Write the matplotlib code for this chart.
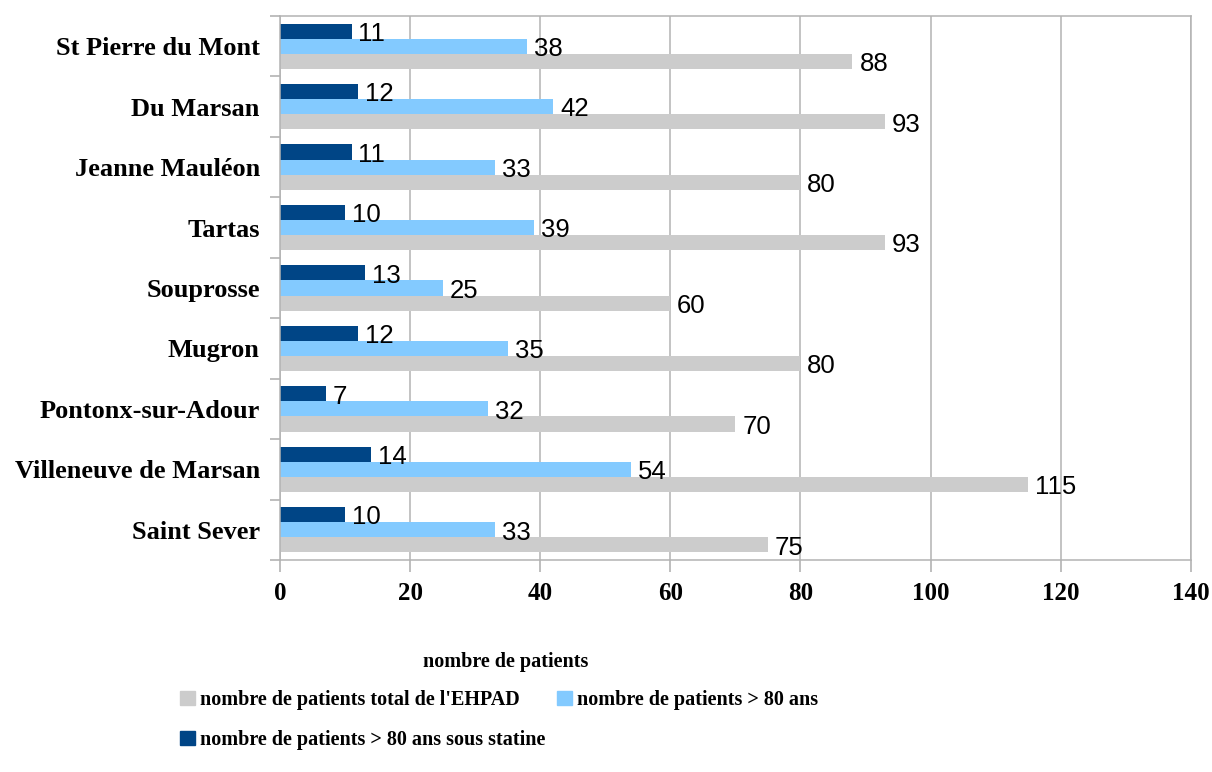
import matplotlib
matplotlib.use("Agg")
import matplotlib.pyplot as plt
import numpy as np
from matplotlib.patches import Patch

categories = ["St Pierre du Mont", "Du Marsan", "Jeanne Mauléon", "Tartas", "Souprosse",
              "Mugron", "Pontonx-sur-Adour", "Villeneuve de Marsan", "Saint Sever"]
statine = [11, 12, 11, 10, 13, 12, 7, 14, 10]
over80 = [38, 42, 33, 39, 25, 35, 32, 54, 33]
total = [88, 93, 80, 93, 60, 80, 70, 115, 75]
xticks = [0, 20, 40, 60, 80, 100, 120, 140]

lab_total = "nombre de patients total de l'EHPAD"
lab_over80 = "nombre de patients > 80 ans"
lab_stat = "nombre de patients > 80 ans sous statine"
axis_title = "nombre de patients"

c_dark = "#004586"
c_light = "#83caff"
c_gray = "#cccccc"
c_grid = "#b3b3b3"

serif = "Liberation Serif"
sans = "Liberation Sans"

fig = plt.figure(figsize=(12.12, 7.72), dpi=100)
W, H = 1212, 772
ax = fig.add_axes([280 / W, 1 - 560 / H, (1190.7 - 280) / W, (560 - 16) / H])

y = np.arange(len(categories))
h = 0.25
series = [(statine, c_dark, -h), (over80, c_light, 0.0), (total, c_gray, h)]
for vals, col, off in series:
    bars = ax.barh(y + off, vals, height=h, color=col, edgecolor="none", zorder=2)
    for b, v in zip(bars, vals):
        ax.annotate(str(v), (b.get_width(), b.get_y() + b.get_height() / 2),
                    xytext=(5, -2), textcoords="offset points", ha="left", va="center",
                    fontsize=18.5, family=sans, color="black", zorder=3)

ax.set_xlim(0, 140)
ax.set_ylim(len(categories) - 0.5, -0.5)
ax.set_xticks(xticks)
ax.set_xticklabels([str(t) for t in xticks], fontsize=18, family=serif, fontweight="bold")
ax.set_yticks(y)
ax.set_yticklabels(categories, fontsize=19, family=serif, fontweight="bold")
ax.set_yticks(np.arange(len(categories) + 1) - 0.5, minor=True)
ax.tick_params(axis="y", which="major", length=0, pad=14.5)
ax.tick_params(axis="y", which="minor", length=7.5, color=c_grid, width=1.2)
ax.tick_params(axis="x", which="major", length=8.6, color=c_grid, width=1.2, pad=7)
ax.grid(axis="x", color=c_grid, linewidth=1.1, zorder=0)
ax.set_axisbelow(True)
for s in ax.spines.values():
    s.set_color(c_grid)
    s.set_linewidth(1.1)

fig.text(506 / W, 1 - 662 / H, axis_title, ha="center", va="center",
         fontsize=14.5, family=serif, fontweight="bold")

handles = [Patch(color=c_gray, label=lab_total),
           Patch(color=c_dark, label=lab_stat),
           Patch(color=c_light, label=lab_over80)]
fig.legend(handles=handles, ncol=2, loc="upper left",
           bbox_to_anchor=(180 / W, 1 - 690 / H), frameon=False,
           prop={"family": serif, "weight": "bold", "size": 14.5},
           handlelength=0.75, handleheight=0.75, handletextpad=0.25,
           columnspacing=0.55, labelspacing=1.0, borderaxespad=0, borderpad=0)

fig.savefig("out.png", dpi=100)
